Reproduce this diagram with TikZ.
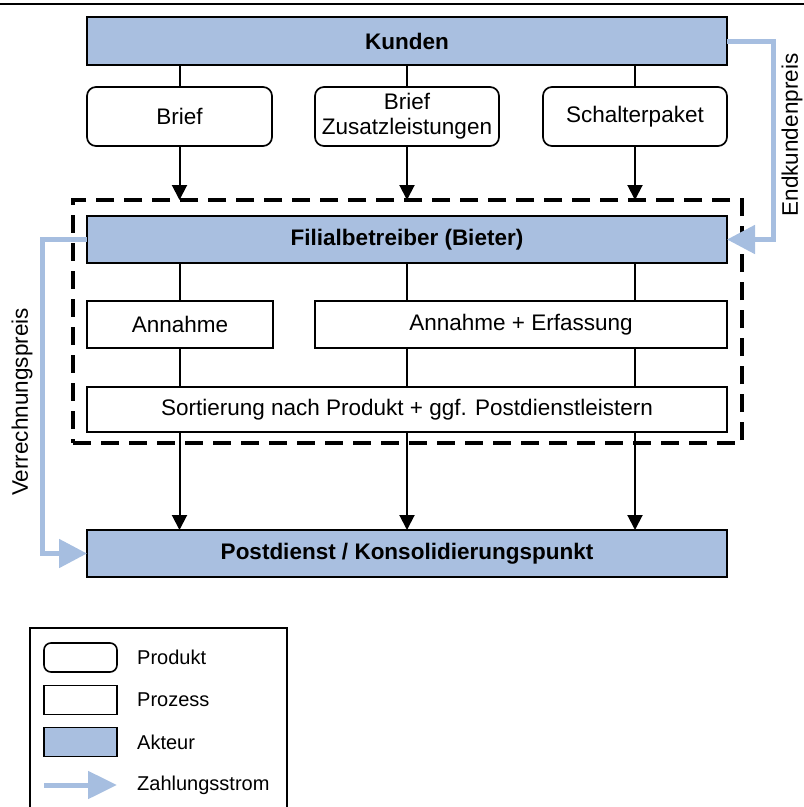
\documentclass[tikz,border=0pt]{standalone}
\usepackage{fontspec}
\setmainfont{Liberation Sans}
\usetikzlibrary{arrows.meta}
\definecolor{akblue}{RGB}{169,191,224}
\definecolor{paybl}{RGB}{166,190,224}
\tikzset{
  box/.style={draw, line width=1.7pt, inner sep=0pt, outer sep=0pt, align=center,
    font=\fontsize{22.5}{25}\selectfont},
  akteur/.style={box, fill=akblue, font=\fontsize{22.5}{25}\selectfont\bfseries},
  prozess/.style={box, fill=white},
  produkt/.style={box, fill=white, rounded corners=9pt},
  conn/.style={line width=2pt},
  arr/.style={line width=2pt, -{Triangle[width=15pt,length=15pt]}},
  pay/.style={line width=5pt, draw=paybl, -{Triangle[width=28pt,length=28pt]}},
  grpbox/.style={draw, line width=3.5pt, dash pattern=on 18pt off 10pt, inner sep=0pt, outer sep=0pt},
  lbl/.style={font=\fontsize{22.5}{25}\selectfont, inner sep=0pt},
  lglbl/.style={font=\fontsize{20}{22}\selectfont, inner sep=0pt, anchor=west},
  lgbox/.style={draw, line width=1.6pt, inner sep=0pt, outer sep=0pt, minimum width=73pt, minimum height=29pt}
}
\begin{document}
\begin{tikzpicture}[x=1pt,y=-1pt]
\useasboundingbox (0,0) rectangle (804,807);
% top rule
\draw[line width=2.5pt] (0,4) -- (804,4);
% group box
\node[grpbox, minimum width=669pt, minimum height=243pt] (grp) at (407.5,321.5) {};
% actors
\node[akteur, minimum width=640pt, minimum height=48pt] (kunden) at (407,41) {Kunden};
\node[akteur, minimum width=640pt, minimum height=47pt] (filial) at (407,239.5) {Filialbetreiber (Bieter)};
\node[akteur, minimum width=640pt, minimum height=47pt] (post) at (407,553.5) {Postdienst / Konsolidierungspunkt};
% products
\node[produkt, minimum width=185pt, minimum height=59pt] (brief) at (179.5,116.5) {Brief};
\node[produkt, minimum width=184pt, minimum height=59pt] (zusatz) at (407,116.5) {Brief\\Zusatzleistungen};
\node[produkt, minimum width=184pt, minimum height=59pt] (schalter) at (635,116.5) {Schalterpaket};
% processes
\node[prozess, minimum width=186pt, minimum height=47pt] (annahme) at (180,324.5) {Annahme};
\node[prozess, minimum width=412pt, minimum height=47pt] (erfass) at (521,324.5) {Annahme + Erfassung};
\node[prozess, minimum width=640pt, minimum height=45pt] (sort) at (407,409.5) {Sortierung nach Produkt + ggf. Postdienstleistern};
% connectors Kunden -> products
\draw[conn] (kunden.south -| brief.center) -- (brief.north);
\draw[conn] (kunden.south -| zusatz.center) -- (zusatz.north);
\draw[conn] (kunden.south -| schalter.center) -- (schalter.north);
% products -> group
\draw[arr] (brief.south) -- (brief.south |- grp.north);
\draw[arr] (zusatz.south) -- (zusatz.south |- grp.north);
\draw[arr] (schalter.south) -- (schalter.south |- grp.north);
% filial -> processes
\draw[conn] (filial.south -| brief.center) -- (annahme.north -| brief.center);
\draw[conn] (filial.south -| zusatz.center) -- (erfass.north -| zusatz.center);
\draw[conn] (filial.south -| schalter.center) -- (erfass.north -| schalter.center);
% processes -> sortierung
\draw[conn] (annahme.south -| brief.center) -- (sort.north -| brief.center);
\draw[conn] (erfass.south -| zusatz.center) -- (sort.north -| zusatz.center);
\draw[conn] (erfass.south -| schalter.center) -- (sort.north -| schalter.center);
% sortierung -> post
\draw[arr] (sort.south -| brief.center) -- (post.north -| brief.center);
\draw[arr] (sort.south -| zusatz.center) -- (post.north -| zusatz.center);
\draw[arr] (sort.south -| schalter.center) -- (post.north -| schalter.center);
% payment flows
\coordinate (rc) at (773,41);
\coordinate (lc) at (42,239.5);
\draw[pay] (kunden.east) -- (rc) |- (filial.east);
\draw[pay] (filial.west) -- (lc) |- (post.west);
\node[lbl, rotate=90] (endk) at (792,135) {Endkundenpreis};
\node[lbl, rotate=90] (verr) at (22,402) {Verrechnungspreis};
% legend
\coordinate (lgA) at (30,810);
\coordinate (lgB) at (287,628);
\coordinate (lgC) at (287,810);
\draw[line width=1.6pt] (lgA) |- (lgB) -- (lgC);
\node[lgbox, rounded corners=7pt] (lgprod) at (80.5,657.5) {};
\node[lgbox] (lgproz) at (80.5,700) {};
\node[lgbox, fill=akblue] (lgakt) at (80.5,742) {};
\coordinate (la1) at (44,785);
\coordinate (la2) at (117,785);
\draw[line width=5pt, draw=paybl, -{Triangle[width=27pt,length=29pt]}] (la1) -- (la2);
\node[lglbl] (t1) at (137,657) {Produkt};
\node[lglbl] (t2) at (137,700) {Prozess};
\node[lglbl] (t3) at (137,742) {Akteur};
\node[lglbl] (t4) at (137,785) {Zahlungsstrom};
\end{tikzpicture}
\end{document}
